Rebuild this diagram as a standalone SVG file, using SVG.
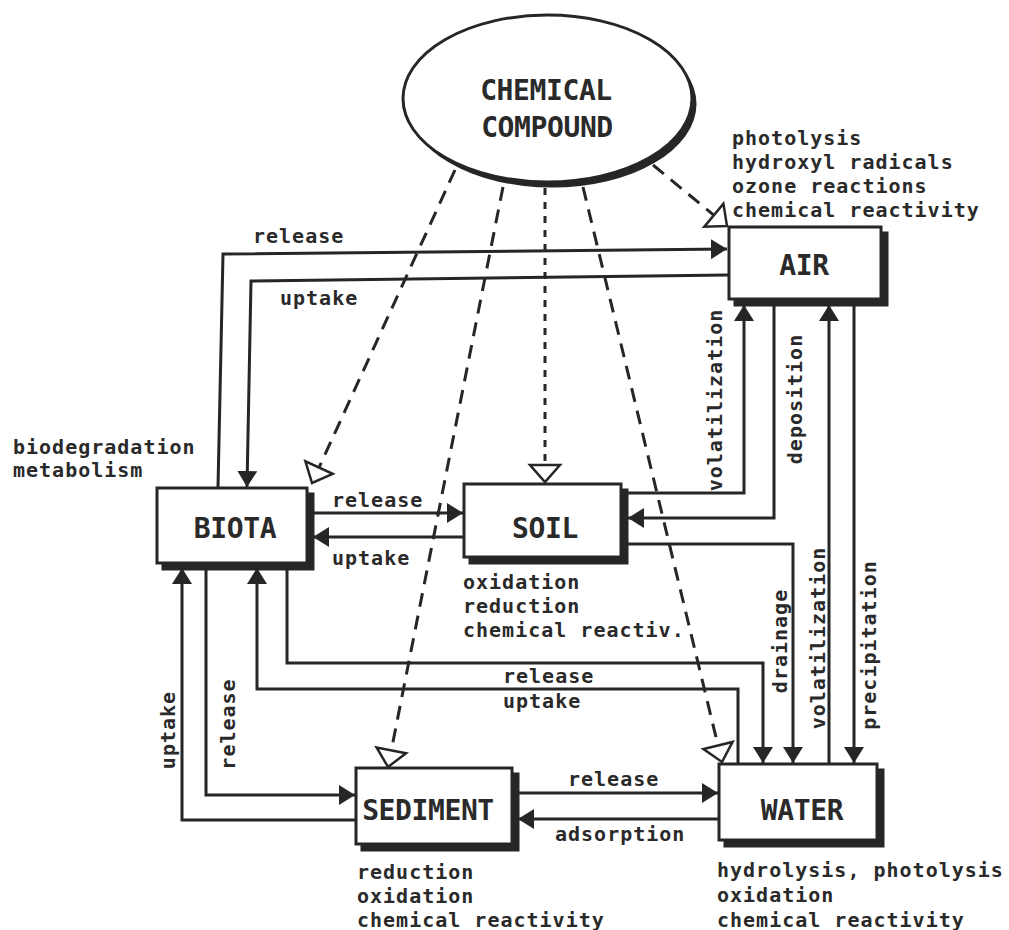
<svg xmlns="http://www.w3.org/2000/svg" width="1009" height="930" viewBox="0 0 1009 930">
<style>
.ln{fill:none;stroke:#262626;stroke-width:3;stroke-linejoin:miter}
.ar{marker-end:url(#ah)}
.ds{fill:none;stroke:#262626;stroke-width:3;stroke-dasharray:14 9;marker-end:url(#oh)}
.dt{fill:none;stroke:#262626;stroke-width:3;stroke-dasharray:7 7;marker-end:url(#oh)}
.box{fill:#fff;stroke:#262626;stroke-width:3}
.shd{fill:#262626;stroke:#262626;stroke-width:3}
.big{font-family:"DejaVu Sans Mono","Liberation Mono",monospace;font-weight:bold;font-size:28px;letter-spacing:-0.4px;text-anchor:middle;fill:#2a2a2a}
.t{font-family:"DejaVu Sans Mono","Liberation Mono",monospace;font-weight:bold;font-size:20px;letter-spacing:1px;fill:#2a2a2a}
.tm{text-anchor:middle}
</style>
<defs>
<marker id="ah" viewBox="0 0 16 20" refX="16" refY="10" markerWidth="16" markerHeight="20" markerUnits="userSpaceOnUse" orient="auto"><path d="M0,0 L16,10 L0,20 Z" fill="#262626"/></marker>
<marker id="oh" viewBox="-3 -3 23 36" refX="17" refY="15" markerWidth="23" markerHeight="36" markerUnits="userSpaceOnUse" orient="auto"><path d="M0,0 L17,15 L0,30 Z" fill="#fff" stroke="#262626" stroke-width="2.5" stroke-dasharray="none"/></marker>
</defs>
<rect width="1009" height="930" fill="#fff"/>

<g id="connectors">
  <!-- dashed from chemical compound -->
  <path class="ds" d="M455,170 L312,483"/>
  <path class="ds" d="M503,187 L388,767"/>
  <path class="dt" d="M545,188 L545,482"/>
  <path class="ds" d="M583,187 L722,762"/>
  <path class="ds" d="M653,165 L727,226"/>

  <!-- biota <-> air -->
  <path class="ln ar" d="M218,487 L223,254 L727,249"/>
  <path class="ln ar" d="M728,275 L251,281 L247,487"/>
  <text class="t" x="253" y="243">release</text>
  <text class="t" x="280" y="305">uptake</text>

  <!-- biota <-> soil -->
  <path class="ln ar" d="M313,513 L463,513"/>
  <path class="ln ar" d="M463,537 L313,537"/>
  <text class="t" x="332" y="507">release</text>
  <text class="t" x="332" y="565">uptake</text>

  <!-- soil <-> air -->
  <path class="ln ar" d="M628,493 L744,493 L744,305"/>
  <path class="ln ar" d="M774,305 L774,518 L628,518"/>
  <text class="t tm" transform="translate(722,400) rotate(-90)">volatilization</text>
  <text class="t tm" transform="translate(802,399) rotate(-90)">deposition</text>

  <!-- soil -> water -->
  <path class="ln ar" d="M628,544 L793,544 L793,763"/>
  <text class="t tm" transform="translate(787,641) rotate(-90)">drainage</text>

  <!-- water <-> air -->
  <path class="ln ar" d="M829,763 L829,305"/>
  <path class="ln ar" d="M854,305 L854,763"/>
  <text class="t tm" transform="translate(825,638) rotate(-90)">volatilization</text>
  <text class="t tm" transform="translate(876,645) rotate(-90)">precipitation</text>

  <!-- biota <-> water -->
  <path class="ln ar" d="M287,568 L287,663 L763,663 L763,763"/>
  <path class="ln ar" d="M738,763 L738,689 L257,689 L257,568"/>
  <text class="t" x="503" y="683">release</text>
  <text class="t" x="503" y="708">uptake</text>

  <!-- biota <-> sediment -->
  <path class="ln ar" d="M206,568 L206,795 L355,795"/>
  <path class="ln ar" d="M355,820 L182,820 L182,568"/>
  <text class="t tm" transform="translate(175,730) rotate(-90)">uptake</text>
  <text class="t tm" transform="translate(235,724) rotate(-90)">release</text>

  <!-- sediment <-> water -->
  <path class="ln ar" d="M518,793 L718,793"/>
  <path class="ln ar" d="M718,819 L518,819"/>
  <text class="t" x="568" y="786">release</text>
  <text class="t" x="555" y="841">adsorption</text>
</g>

<g id="chemical-compound">
  <ellipse cx="552" cy="104" rx="144.5" ry="83.5" fill="#262626"/>
  <ellipse cx="547.5" cy="98.5" rx="144.5" ry="83.5" fill="#fff" stroke="#262626" stroke-width="3"/>
  <text class="big" x="546" y="100">CHEMICAL</text>
  <text class="big" x="547" y="137">COMPOUND</text>
</g>

<g id="air">
  <rect class="shd" x="735" y="233" width="152" height="72"/>
  <rect class="box" x="729" y="227" width="152" height="72"/>
  <text class="big" x="804" y="275">AIR</text>
  <text class="t" x="732" y="145">photolysis</text>
  <text class="t" x="732" y="169">hydroxyl radicals</text>
  <text class="t" x="732" y="193">ozone reactions</text>
  <text class="t" x="732" y="217">chemical reactivity</text>
</g>

<g id="biota">
  <rect class="shd" x="163" y="494" width="150" height="75"/>
  <rect class="box" x="157" y="488" width="150" height="75"/>
  <text class="big" x="235" y="538">BIOTA</text>
  <text class="t" x="13" y="454">biodegradation</text>
  <text class="t" x="13" y="477">metabolism</text>
</g>

<g id="soil">
  <rect class="shd" x="470" y="490" width="157" height="73"/>
  <rect class="box" x="464" y="484" width="157" height="73"/>
  <text class="big" x="545" y="538">SOIL</text>
  <text class="t" x="463" y="589">oxidation</text>
  <text class="t" x="463" y="613">reduction</text>
  <text class="t" x="463" y="637">chemical reactiv.</text>
</g>

<g id="sediment">
  <rect class="shd" x="362" y="774" width="156" height="76"/>
  <rect class="box" x="356" y="768" width="156" height="76"/>
  <text class="big" x="428" y="820">SEDIMENT</text>
  <text class="t" x="357" y="879">reduction</text>
  <text class="t" x="357" y="903">oxidation</text>
  <text class="t" x="357" y="927">chemical reactivity</text>
</g>

<g id="water">
  <rect class="shd" x="725" y="770" width="158" height="76"/>
  <rect class="box" x="719" y="764" width="158" height="76"/>
  <text class="big" x="802" y="820">WATER</text>
  <text class="t" x="717" y="877">hydrolysis, photolysis</text>
  <text class="t" x="717" y="902">oxidation</text>
  <text class="t" x="717" y="927">chemical reactivity</text>
</g>
</svg>
